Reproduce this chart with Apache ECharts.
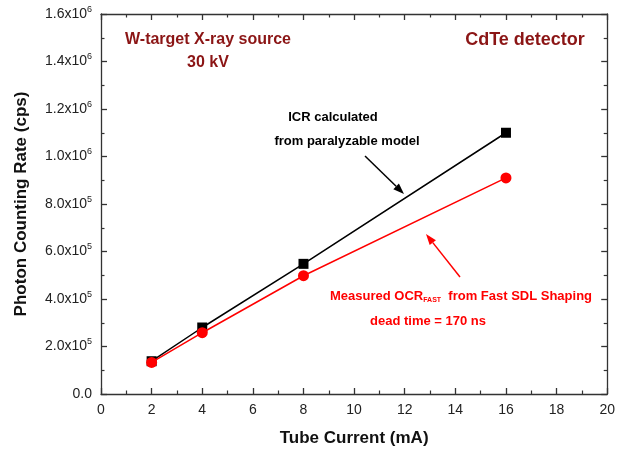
<!DOCTYPE html>
<html>
<head>
<meta charset="utf-8">
<script src="https://cdn.jsdelivr.net/npm/echarts@6/dist/echarts.min.js"></script>
<style>html,body{margin:0;padding:0;background:#fff}#c{width:618px;height:454px}</style>
</head>
<body>
<div id="c"></div>
<script>
var tubeCurrent = [2, 4, 8, 16];
var icrCalculated = [138000, 280000, 548000, 1100000];
var ocrMeasured = [133000, 258000, 498000, 910000];
var yTickLabels = ['0.0', '2.0x10^5', '4.0x10^5', '6.0x10^5', '8.0x10^5', '1.0x10^6', '1.2x10^6', '1.4x10^6', '1.6x10^6'];

var FONT = 'Arial, "Liberation Sans", sans-serif';
var chart = echarts.init(document.getElementById('c'), null, {renderer: 'canvas'});

function yFmt(v) {
  var idx = Math.round(v / 200000);
  var s = yTickLabels[idx];
  if (s === undefined) return '';
  var p = s.split('^');
  if (p.length === 1) return '{b|' + p[0] + '}';
  return '{b|' + p[0] + '}{s|' + p[1] + '}';
}

var axisLineStyle = {color: '#333', width: 1.3};
var tickCommon = {show: true, inside: true, length: 6, lineStyle: {color: '#333', width: 1.3}};
var minorCommon = {show: true, splitNumber: 2, length: 3.5, lineStyle: {color: '#333', width: 1.2}};

var option = {
  backgroundColor: '#fff',
  animation: false,
  grid: {left: 101, right: 7, top: 14, bottom: 60, containLabel: false},
  xAxis: [{
    type: 'value', min: 0, max: 20, interval: 2, position: 'bottom',
    name: 'Tube Current (mA)', nameLocation: 'middle', nameGap: 36,
    nameTextStyle: {fontFamily: FONT, fontSize: 17, fontWeight: 'bold', color: '#111'},
    axisLine: {show: true, onZero: false, lineStyle: axisLineStyle},
    axisTick: tickCommon, minorTick: minorCommon,
    splitLine: {show: false},
    axisLabel: {fontFamily: FONT, fontSize: 14, color: '#222', margin: 9}
  }, {
    type: 'value', min: 0, max: 20, interval: 2, position: 'top',
    axisLine: {show: true, onZero: false, lineStyle: axisLineStyle},
    axisTick: tickCommon, minorTick: minorCommon,
    splitLine: {show: false}, axisLabel: {show: false}
  }],
  yAxis: [{
    type: 'value', min: 0, max: 1600000, interval: 200000, position: 'left',
    name: 'Photon Counting Rate (cps)', nameLocation: 'middle', nameGap: 71,
    nameTextStyle: {fontFamily: FONT, fontSize: 17, fontWeight: 'bold', color: '#111'},
    axisLine: {show: true, onZero: false, lineStyle: axisLineStyle},
    axisTick: tickCommon, minorTick: minorCommon,
    splitLine: {show: false},
    axisLabel: {
      formatter: yFmt, margin: 9,
      rich: {
        b: {fontFamily: FONT, fontSize: 14, color: '#222'},
        s: {fontFamily: FONT, fontSize: 9, color: '#222', padding: [0, 0, 9, 0]}
      }
    }
  }, {
    type: 'value', min: 0, max: 1600000, interval: 200000, position: 'right',
    axisLine: {show: true, onZero: false, lineStyle: axisLineStyle},
    axisTick: tickCommon, minorTick: minorCommon,
    splitLine: {show: false}, axisLabel: {show: false}
  }],
  series: [{
    name: 'ICR calculated', type: 'line',
    data: tubeCurrent.map(function (x, i) { return [x, icrCalculated[i]]; }),
    symbol: 'rect', symbolSize: 10, showAllSymbol: true,
    lineStyle: {color: '#000', width: 1.5},
    itemStyle: {color: '#000'}, z: 2
  }, {
    name: 'Measured OCR', type: 'line',
    data: tubeCurrent.map(function (x, i) { return [x, ocrMeasured[i]]; }),
    symbol: 'circle', symbolSize: 11, showAllSymbol: true,
    lineStyle: {color: '#ff0000', width: 1.5},
    itemStyle: {color: '#ff0000'}, z: 3
  }]
};
chart.setOption(option);

function arrow(x1, y1, x2, y2, color) {
  var dx = x2 - x1, dy = y2 - y1, L = Math.sqrt(dx * dx + dy * dy);
  var ux = dx / L, uy = dy / L, hl = 11, hw = 4;
  var bx = x2 - ux * hl, by = y2 - uy * hl;
  return [{
    type: 'line', shape: {x1: x1, y1: y1, x2: bx, y2: by},
    style: {stroke: color, lineWidth: 1.5}
  }, {
    type: 'polygon',
    shape: {points: [[x2, y2], [bx - uy * hw, by + ux * hw], [bx + uy * hw, by - ux * hw]]},
    style: {fill: color}
  }];
}

var darkRed = '#8b1515';
var g = [
  {type: 'text', x: 208, y: 40, style: {text: 'W-target X-ray source', font: 'bold 16px ' + FONT, fill: darkRed, textAlign: 'center', textVerticalAlign: 'middle'}},
  {type: 'text', x: 208, y: 63, style: {text: '30 kV', font: 'bold 16px ' + FONT, fill: darkRed, textAlign: 'center', textVerticalAlign: 'middle'}},
  {type: 'text', x: 525, y: 40, style: {text: 'CdTe detector', font: 'bold 18px ' + FONT, fill: darkRed, textAlign: 'center', textVerticalAlign: 'middle'}},
  {type: 'text', x: 333, y: 117, style: {text: 'ICR calculated', font: 'bold 13px ' + FONT, fill: '#000', textAlign: 'center', textVerticalAlign: 'middle'}},
  {type: 'text', x: 347, y: 141, style: {text: 'from paralyzable model', font: 'bold 13px ' + FONT, fill: '#000', textAlign: 'center', textVerticalAlign: 'middle'}},
  {type: 'text', x: 330, y: 296, style: {
    text: '{a|Measured OCR}{s|FAST}{a|  from Fast SDL Shaping}',
    rich: {a: {font: 'bold 13px ' + FONT, fill: '#ff0000', color: '#ff0000'},
           s: {font: 'bold 7px ' + FONT, fill: '#ff0000', color: '#ff0000', padding: [9, 0, 0, 0]}},
    textAlign: 'left', textVerticalAlign: 'middle'}},
  {type: 'text', x: 428, y: 321, style: {text: 'dead time = 170 ns', font: 'bold 13px ' + FONT, fill: '#ff0000', textAlign: 'center', textVerticalAlign: 'middle'}}
];
g = g.concat(arrow(365, 156, 404, 194, '#000'));
g = g.concat(arrow(460, 277, 426, 234, '#ff0000'));
chart.setOption({graphic: g});
</script>
</body>
</html>
